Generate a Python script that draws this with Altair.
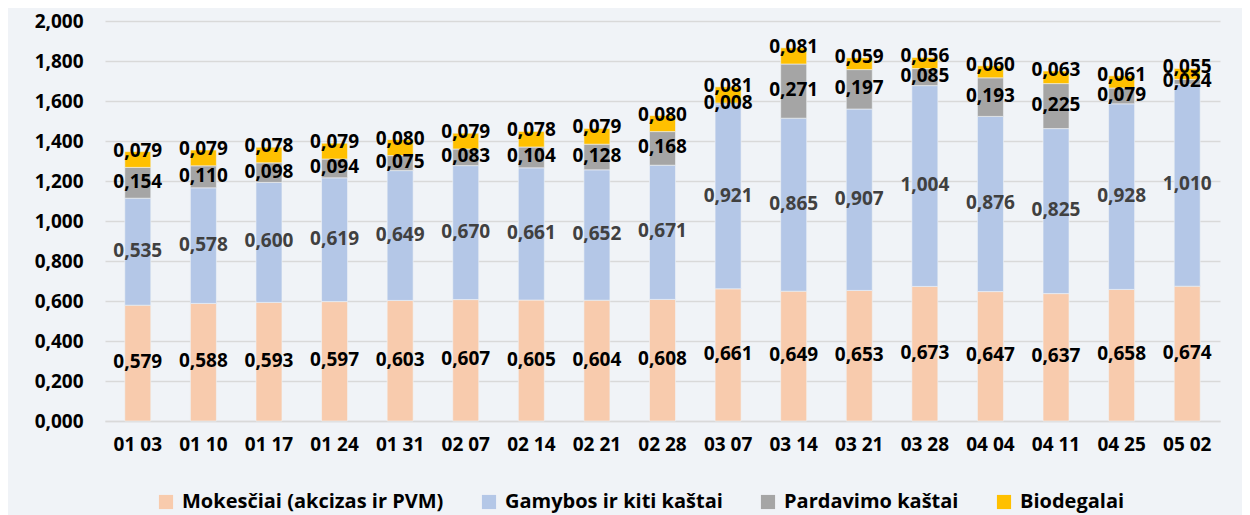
import altair as alt
import pandas as pd

dates = ["01 03", "01 10", "01 17", "01 24", "01 31", "02 07", "02 14", "02 21", "02 28",
         "03 07", "03 14", "03 21", "03 28", "04 04", "04 11", "04 25", "05 02"]
series = ["Mokesčiai (akcizas ir PVM)", "Gamybos ir kiti kaštai", "Pardavimo kaštai", "Biodegalai"]
mokesciai = [0.579, 0.588, 0.593, 0.597, 0.603, 0.607, 0.605, 0.604, 0.608,
             0.661, 0.649, 0.653, 0.673, 0.647, 0.637, 0.658, 0.674]
gamybos = [0.535, 0.578, 0.600, 0.619, 0.649, 0.670, 0.661, 0.652, 0.671,
           0.921, 0.865, 0.907, 1.004, 0.876, 0.825, 0.928, 1.010]
pardavimo = [0.154, 0.110, 0.098, 0.094, 0.075, 0.083, 0.104, 0.128, 0.168,
             0.008, 0.271, 0.197, 0.085, 0.193, 0.225, 0.079, 0.024]
biodegalai = [0.079, 0.079, 0.078, 0.079, 0.080, 0.079, 0.078, 0.079, 0.080,
              0.081, 0.081, 0.059, 0.056, 0.060, 0.063, 0.061, 0.055]
y_ticks = [0.0, 0.2, 0.4, 0.6, 0.8, 1.0, 1.2, 1.4, 1.6, 1.8, 2.0]
colors = ["#F8CBAD", "#B4C7E7", "#A5A5A5", "#FFC000"]
label_colors = ["#000000", "#404040", "#000000", "#000000"]

FONT = "Open Sans"
BG = "#F0F3F7"

rows = []
all_vals = [mokesciai, gamybos, pardavimo, biodegalai]
for i, d in enumerate(dates):
    base = 0.0
    for k, s in enumerate(series):
        v = all_vals[k][i]
        top = base + v
        pos = top if k == 3 else (base + top) / 2
        rows.append({"date": d, "series": s, "idx": k, "value": v,
                     "pos": pos, "label": f"{v:.3f}".replace(".", ","),
                     "lcolor": label_colors[k]})
        base = top
df = pd.DataFrame(rows)

x_axis = alt.Axis(labelAngle=0, labelFont=FONT, labelFontSize=19,
                  labelFontWeight="bold", labelColor="#000000",
                  labelPadding=14, ticks=False, domainColor="#D9D9D9",
                  domainWidth=1.5, grid=False)
y_axis = alt.Axis(values=y_ticks, tickCount=11,
                  labelExpr="replace(format(datum.value, ',.3f'), '.', ',')",
                  labelFont=FONT, labelFontSize=19, labelFontWeight="bold",
                  labelColor="#000000", labelPadding=22, ticks=False,
                  labelOverlap=False, labelFlush=False,
                  domain=False, gridColor="#D9D9D9", gridWidth=1.5)
y_scale = alt.Scale(domain=[0, 2.0], nice=False)

base = alt.Chart(df)

bars = base.mark_bar(size=26, stroke=BG, strokeWidth=0.6).encode(
    x=alt.X("date:N", sort=dates, title=None, axis=x_axis),
    y=alt.Y("value:Q", stack="zero", title=None, scale=y_scale, axis=y_axis),
    color=alt.Color("series:N", sort=series,
                    scale=alt.Scale(domain=series, range=colors),
                    legend=alt.Legend(title=None, orient="none", direction="horizontal",
                                      legendX=51, legendY=471, symbolType="square",
                                      symbolSize=200, symbolStrokeWidth=0,
                                      labelFont=FONT, labelFontSize=20,
                                      labelFontWeight="bold", labelColor="#000000",
                                      labelLimit=0, labelOffset=6, columnPadding=35,
                                      padding=0)),
    order=alt.Order("idx:Q", sort="ascending"),
)

labels = base.mark_text(font=FONT, fontSize=19, fontWeight="bold", baseline="middle", dy=-1).encode(
    x=alt.X("date:N", sort=dates, title=None, axis=x_axis),
    y=alt.Y("pos:Q", title=None, scale=y_scale, axis=y_axis),
    text="label:N",
    color=alt.Color("lcolor:N", scale=None),
)

chart = alt.layer(bars, labels).properties(
    width=1115, height=400,
    padding={"left": 97, "top": 13, "right": 22, "bottom": 94},
    autosize=alt.AutoSizeParams(type="none"),
    background=BG,
).configure_view(stroke=None)

chart.save("out.html", embed_options={"renderer": "svg", "actions": False})
